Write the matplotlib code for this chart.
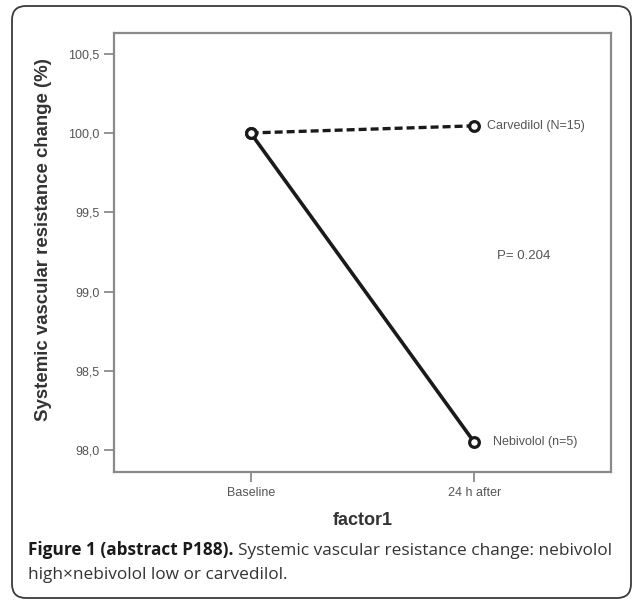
import matplotlib
matplotlib.use("Agg")
import matplotlib.pyplot as plt
from matplotlib.patches import FancyBboxPatch
from matplotlib.transforms import IdentityTransform

categories = ["Baseline", "24 h after"]
carvedilol = [100.0, 100.045]
nebivolol = [100.0, 98.05]
yticks = [98.0, 98.5, 99.0, 99.5, 100.0, 100.5]
ytick_labels = ["98,0", "98,5", "99,0", "99,5", "100,0", "100,5"]
label_carv = "Carvedilol (N=15)"
label_nebi = "Nebivolol (n=5)"
p_text = "P= 0.204"

W, H = 633, 603
fig = plt.figure(figsize=(W / 100, H / 100), dpi=100)
fig.patch.set_facecolor("white")

# outer rounded frame
box = FancyBboxPatch((12, H - 598), 619, 592,
                     boxstyle="round,pad=0,rounding_size=14",
                     transform=IdentityTransform(), fill=False,
                     edgecolor="#3a3a3a", linewidth=1.3)
fig.add_artist(box)

ax = fig.add_axes([114 / W, 1 - 472 / H, (611 - 114) / W, (472 - 32.7) / H])
x = list(range(len(categories)))

ax.plot(x, carvedilol, color="#1a1a1a", lw=2.4, ls=(0, (2.4, 1.2)),
        marker="o", ms=7, mfc="white", mec="#1a1a1a", mew=2.3, zorder=3)
ax.plot(x, nebivolol, color="#1a1a1a", lw=2.6, ls="-",
        marker="o", ms=7, mfc="white", mec="#1a1a1a", mew=2.3, zorder=4)

ax.set_xlim(-0.611, 1.611)
ax.set_ylim(97.863, 100.632)
ax.set_xticks(x)
ax.set_xticklabels(categories)
ax.set_yticks(yticks)
ax.set_yticklabels(ytick_labels)

for s in ax.spines.values():
    s.set_color("#8a8a8a")
    s.set_linewidth(1.6)
ax.tick_params(axis="both", colors="#8a8a8a", length=7, width=1.3,
               labelsize=9, labelcolor="#555555")
for t in ax.get_xticklabels() + ax.get_yticklabels():
    t.set_fontfamily("Liberation Sans")

ax.text(1.057, carvedilol[1], label_carv, fontsize=9, color="#555555",
        family="Liberation Sans", va="center", ha="left")
ax.text(1.084, nebivolol[1], label_nebi, fontsize=9, color="#555555",
        family="Liberation Sans", va="center", ha="left")
ax.text(1.10, 99.224, p_text, fontsize=9.5, color="#555555",
        family="Liberation Sans", va="center", ha="left")

ax.set_ylabel("Systemic vascular resistance change (%)", fontsize=13.4,
              fontweight="bold", family="Liberation Sans", color="#333333")
ax.yaxis.set_label_coords(-0.124, 0.528)
ax.set_xlabel("factor1", fontsize=13, fontweight="bold",
              family="Liberation Sans", color="#333333", labelpad=10)

# caption
fig.canvas.draw()
r = fig.canvas.get_renderer()
cap_fs = 12.4
t1 = fig.text(28 / W, 1 - 555 / H, "Figure 1 (abstract P188).", fontsize=cap_fs,
              fontweight="bold", family="Open Sans", color="#1a1a1a",
              va="baseline")
bb = t1.get_window_extent(r)
fig.text((bb.x1 + 4) / W, 1 - 555 / H,
         "Systemic vascular resistance change: nebivolol", fontsize=cap_fs,
         family="Open Sans", color="#333333", va="baseline")
fig.text(28 / W, 1 - 579 / H, "high\u00d7nebivolol low or carvedilol.",
         fontsize=cap_fs, family="Open Sans", color="#333333", va="baseline")

fig.savefig("out.png", dpi=100, facecolor="white")
